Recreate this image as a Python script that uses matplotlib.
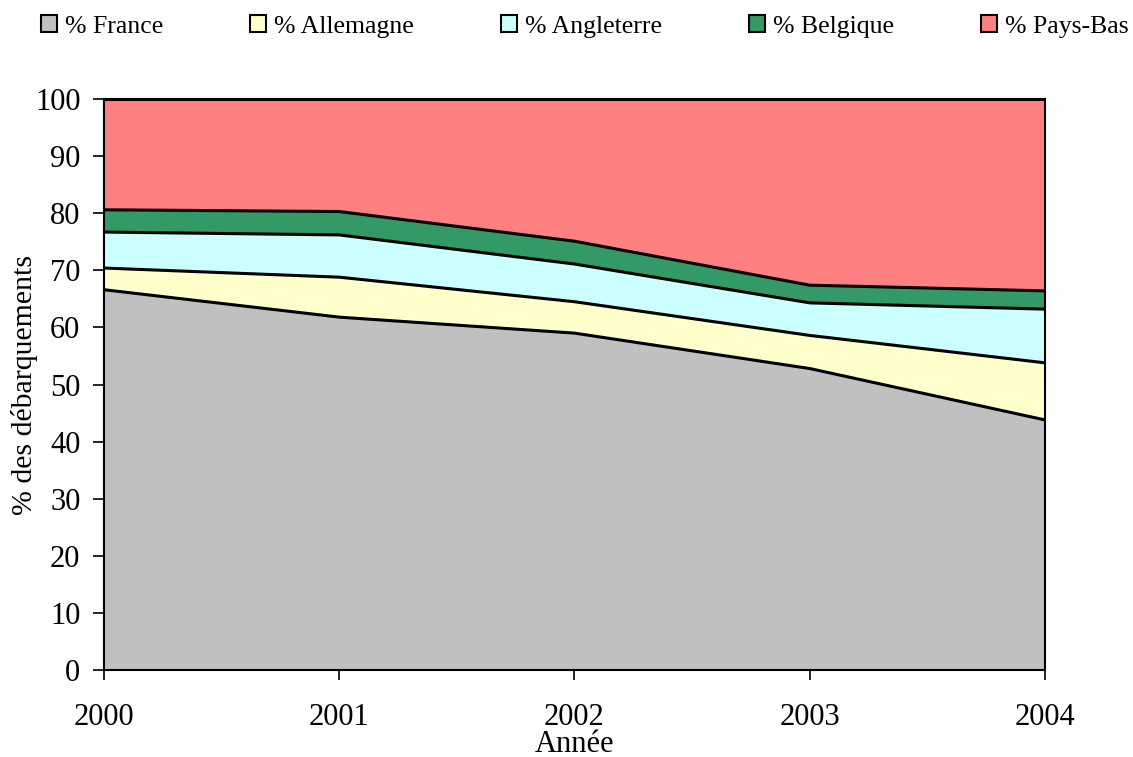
import numpy as np
import matplotlib.pyplot as plt
from matplotlib.patches import Patch

# Data: share of landings by country (%)
years = [2000, 2001, 2002, 2003, 2004]
france = [66.6, 61.8, 59.0, 52.8, 43.8]
allemagne = [3.8, 7.0, 5.5, 5.8, 10.0]
angleterre = [6.3, 7.4, 6.6, 5.7, 9.4]
belgique = [3.9, 4.1, 4.0, 3.1, 3.2]
pays_bas = [19.4, 19.7, 24.9, 32.6, 33.6]

labels = ['% France', '% Allemagne', '% Angleterre', '% Belgique', '% Pays-Bas']
colors = ['#C0C0C0', '#FFFFCC', '#CCFFFF', '#339966', '#FF8080']

plt.rcParams['font.family'] = ['Liberation Serif', 'DejaVu Serif']

fig = plt.figure(figsize=(11.33, 7.57), dpi=100)
ax = fig.add_axes([0.0918, 0.1149, 0.8305, 0.7543])

series = [france, allemagne, angleterre, belgique, pays_bas]
bottom = np.zeros(len(years))
for vals, col in zip(series, colors):
    top = bottom + np.array(vals)
    ax.fill_between(years, bottom, top, facecolor=col, edgecolor='none')
    ax.plot(years, top, color='black', lw=2.2)
    bottom = top

ax.set_xlim(2000, 2004)
ax.set_ylim(0, 100)
ax.set_xticks(years)
ax.set_yticks(range(0, 101, 10))
ax.tick_params(labelsize=22, direction='out', width=1.2)
ax.tick_params(axis='y', length=8, pad=9)
ax.tick_params(axis='x', length=7, pad=17)
for s in ax.spines.values():
    s.set_linewidth(1.5)

ax.set_xlabel('Année', fontsize=22, labelpad=-2)
ax.set_ylabel('% des débarquements', fontsize=21.5, labelpad=-2)

handles = [Patch(facecolor=c, edgecolor='black', lw=1.5) for c in colors]
fig.legend(handles, labels, loc='center', bbox_to_anchor=(0.516, 0.965),
           ncol=5, frameon=False, fontsize=18.5, handlelength=0.62,
           handleheight=0.62, handletextpad=0.3, columnspacing=3.4)

fig.savefig('out.png', dpi=100)
